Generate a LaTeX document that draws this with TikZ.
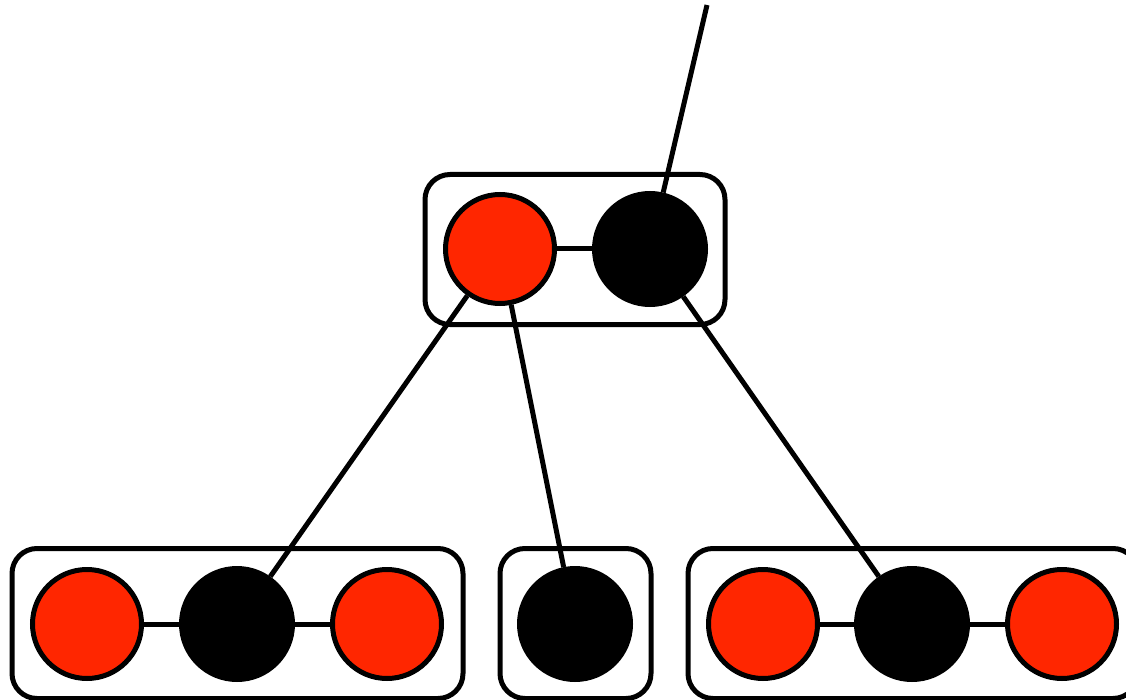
\documentclass[tikz,border=0pt]{standalone}
\usepackage{tikz}
\usetikzlibrary{positioning}
\definecolor{piros}{RGB}{255,38,0}
\tikzset{
  pcsucs/.style={circle,draw,line width=5pt,fill=piros,minimum size=109pt,inner sep=0pt},
  fcsucs/.style={circle,draw,line width=5pt,fill=black,minimum size=111pt,inner sep=0pt},
  doboz/.style={draw,line width=5pt,rounded corners=25pt,minimum height=150pt,inner sep=0pt},
  el/.style={line width=5pt},
}

\begin{document}
\begin{tikzpicture}[x=1pt,y=-1pt]
  \useasboundingbox (0,0) rectangle (1126,700);
  \clip (0,0) rectangle (1126,700);
  % dobozok
  \node[doboz,minimum width=300pt] (d0) at (575,249.5) {};
  \node[doboz,minimum width=451pt] (d1) at (237.5,623.5) {};
  \node[doboz,minimum width=151pt] (d2) at (575.5,623.5) {};
  \node[doboz,minimum width=450pt] (d3) at (913,623.5) {};
  % csucsok
  \node[pcsucs] (a1) at (500,249) {};
  \node[fcsucs] (a2) at (650,249) {};
  \node[pcsucs] (b1) at (87,624) {};
  \node[fcsucs] (b2) at (237,624) {};
  \node[pcsucs] (b3) at (387,624) {};
  \node[fcsucs] (c1) at (575,624) {};
  \node[pcsucs] (e1) at (763,624) {};
  \node[fcsucs] (e2) at (912,624) {};
  \node[pcsucs] (e3) at (1062,624) {};
  \coordinate (gyoker) at (707,5);
  % elek
  \draw[el] (a1) -- (a2);
  \draw[el] (b1) -- (b2);
  \draw[el] (b2) -- (b3);
  \draw[el] (e1) -- (e2);
  \draw[el] (e2) -- (e3);
  \draw[el] (gyoker) -- (a2);
  \draw[el] (a1) -- (b2);
  \draw[el] (a1) -- (c1);
  \draw[el] (a2) -- (e2);
\end{tikzpicture}
\end{document}
